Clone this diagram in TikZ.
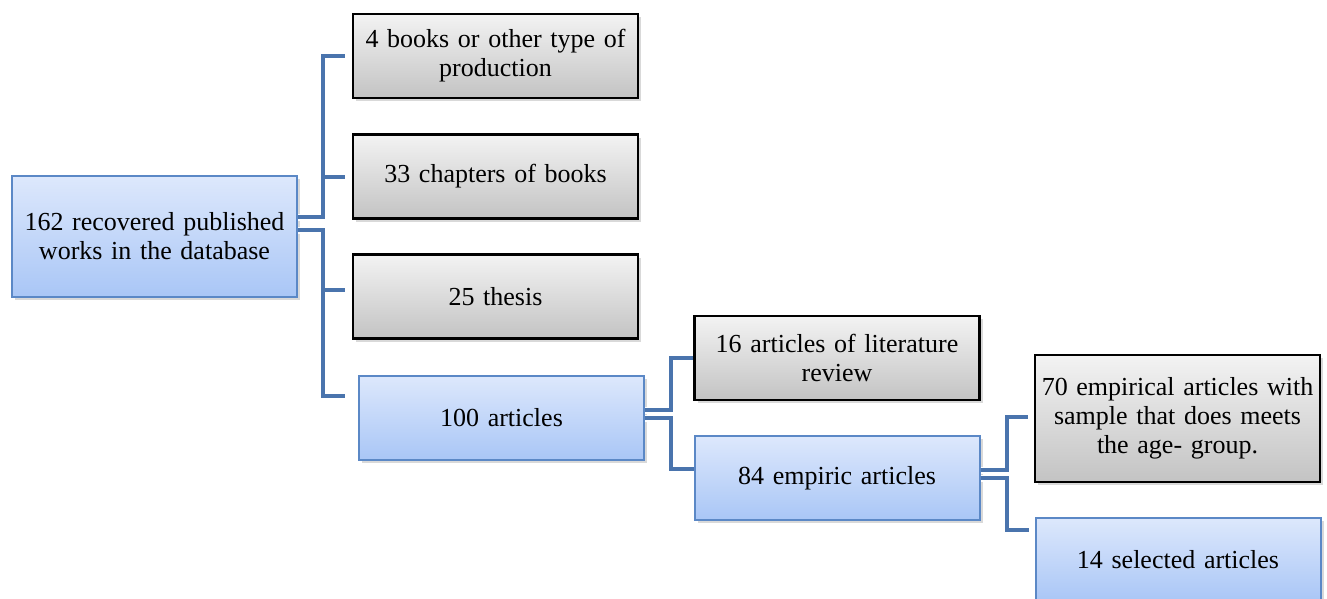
\documentclass[tikz,border=0pt]{standalone}
\usepackage{fontspec}
\setmainfont{Liberation Serif}
\usetikzlibrary{calc,shadows}

\definecolor{linkblue}{HTML}{4A74AD}
\definecolor{boxedge}{HTML}{5B88C6}
\definecolor{bluetop}{HTML}{DDE8FC}
\definecolor{bluebot}{HTML}{A9C6F6}
\definecolor{greytop}{HTML}{F3F3F3}
\definecolor{greybot}{HTML}{C3C3C3}

\begin{document}
\begin{tikzpicture}[
        x=0.5pt, y=-0.5pt,
        box/.style={
            rectangle,
            minimum width=142.5pt,
            minimum height=42pt,
            text width=138pt,
            inner sep=2pt,
            align=center,
            font=\fontsize{13}{14.5}\selectfont,
            drop shadow={shadow xshift=1.5pt, shadow yshift=-1.5pt, opacity=0.3}
        },
        bluebox/.style={box, draw=boxedge, line width=1pt, top color=bluetop, bottom color=bluebot},
        greybox/.style={box, draw=black, line width=1.2pt, top color=greytop, bottom color=greybot},
        link/.style={draw=linkblue, line width=2pt, preaction={draw=white, line width=3.5pt}}
    ]

    % (0,0) at top left corner, one unit = one pixel of the reference
    \useasboundingbox (0,0) rectangle (1327,599);

    % blue boxes
    \node[bluebox, minimum height=60.5pt] (root) at (154.5,236.5) {162 recovered published\\works in the database};
    \node[bluebox] (articles) at (501.5,417.5) {100 articles};
    \node[bluebox] (empiric) at (837,478) {84 empiric articles};
    \node[bluebox] (selected) at (1178,559.5) {14 selected articles};

    % grey boxes (name, x, y, text)
    \foreach \name/\x/\y/\txt in {
        books/495.5/56/{4 books or other type of\\production},
        chapters/495.5/176.5/{33 chapters of books},
        thesis/495.5/296.5/{25 thesis},
        review/837/358/{16 articles of literature\\review}
    } {
        \node[greybox] (\name) at (\x,\y) {\txt};
    }
    \node[greybox, minimum height=63.5pt, text width=142pt, inner sep=0.25pt] (sample) at (1177.5,418.5)
        {70 empirical articles with\\sample that does meets\\the age- group.};

    % --- connectors ---
    \draw[link] ($(root.east)+(0,-19.5)$) -- ++(25,0) coordinate (rootup)
        |- ($(books.west)+(-7,0)$)
        (rootup) |- ($(chapters.west)+(-7,0)$);
    \draw[link] ($(root.east)+(0,-6.5)$) -- ++(25,0) coordinate (rootdown)
        |- ($(thesis.west)+(-7,-6.5)$)
        (rootdown) |- ($(articles.west)+(-13,-21.5)$);

    \draw[link] ($(articles.east)+(0,-7.5)$) -- ++(26,0) |- (review.west);
    \draw[link] ($(articles.east)+(0,0.5)$) -- ++(26,0) |- ($(empiric.west)+(0,-9)$);

    \draw[link] ($(empiric.east)+(0,-8)$) -- ++(26,0) |- ($(sample.west)+(-6,-1.5)$);
    \draw[link] ($(empiric.east)+(0,0)$) -- ++(26,0) |- ($(selected.west)+(-6,-29.5)$);

\end{tikzpicture}
\end{document}
